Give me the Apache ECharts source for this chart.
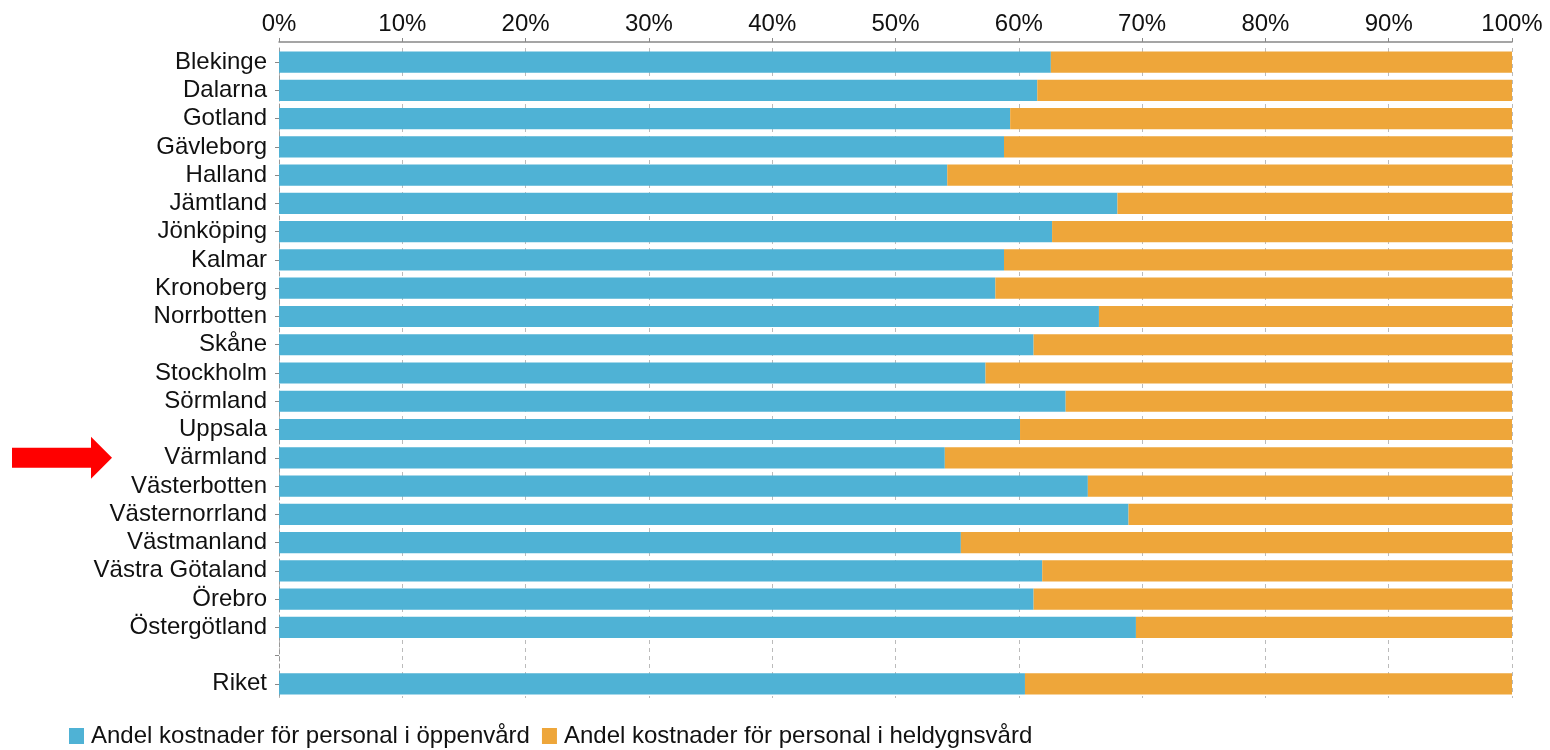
<!DOCTYPE html>
<html>
<head>
<meta charset="utf-8">
<script src="https://cdn.jsdelivr.net/npm/echarts@6/dist/echarts.min.js"></script>
<style>html,body{margin:0;padding:0;background:#fff}#c{width:1550px;height:750px}</style>
</head>
<body>
<div id="c"></div>
<script>
var categories = ['Blekinge','Dalarna','Gotland','Gävleborg','Halland','Jämtland','Jönköping','Kalmar','Kronoberg','Norrbotten','Skåne','Stockholm','Sörmland','Uppsala','Värmland','Västerbotten','Västernorrland','Västmanland','Västra Götaland','Örebro','Östergötland','','Riket'];
var oppenvard = [62.6,61.5,59.3,58.8,54.2,68.0,62.7,58.8,58.1,66.5,61.2,57.3,63.8,60.1,54.0,65.6,68.9,55.3,61.9,61.2,69.5,null,60.5];
var heldygn = [37.4,38.5,40.7,41.2,45.8,32.0,37.3,41.2,41.9,33.5,38.8,42.7,36.2,39.9,46.0,34.4,31.1,44.7,38.1,38.8,30.5,null,39.5];
var seriesNames = ['Andel kostnader för personal i öppenvård','Andel kostnader för personal i heldygnsvård'];
var highlighted = 'Värmland';

var font = "'Liberation Sans', Arial, sans-serif";
var chart = echarts.init(document.getElementById('c'), null, {renderer:'canvas'});
chart.setOption({
  animation:false,
  textStyle:{fontFamily:font},
  grid:{left:279,right:38,top:48,bottom:52,containLabel:false},
  legend:{
    left:69,bottom:2,padding:0,itemWidth:15,itemHeight:16,itemGap:12,icon:'rect',
    textStyle:{fontSize:24,color:'#111',fontFamily:font,padding:[0,0,0,2]},
    data:seriesNames
  },
  xAxis:{
    type:'value',position:'top',min:0,max:100,interval:10,offset:6,
    axisLine:{show:true,lineStyle:{color:'#888',width:1.5}},
    axisTick:{show:true,length:4,lineStyle:{color:'#888'}},
    axisLabel:{formatter:'{value}%',fontSize:24,color:'#111',margin:6,fontFamily:font},
    splitLine:{show:true,lineStyle:{color:'#bbb',type:[4,4],width:1}}
  },
  yAxis:{
    type:'category',inverse:true,data:categories,
    axisLine:{show:true,lineStyle:{color:'#999',type:[4,3]}},
    axisTick:{show:true,alignWithLabel:true,length:4,lineStyle:{color:'#888'}},
    axisLabel:{fontSize:24,color:'#111',margin:12,fontFamily:font,interval:0}
  },
  series:[
    {name:seriesNames[0],type:'bar',stack:'s',data:oppenvard,barCategoryGap:'25%',itemStyle:{color:'#4FB2D5'}},
    {name:seriesNames[1],type:'bar',stack:'s',data:heldygn,barCategoryGap:'25%',itemStyle:{color:'#EEA63A'}}
  ]
});
var yc = chart.convertToPixel({yAxisIndex:0}, highlighted);
chart.setOption({
  graphic:[{
    type:'polygon',
    shape:{points:[[12,yc-10],[91,yc-10],[91,yc-21],[112,yc],[91,yc+21],[91,yc+10],[12,yc+10]]},
    style:{fill:'#FF0000'}
  }]
});
</script>
</body>
</html>
